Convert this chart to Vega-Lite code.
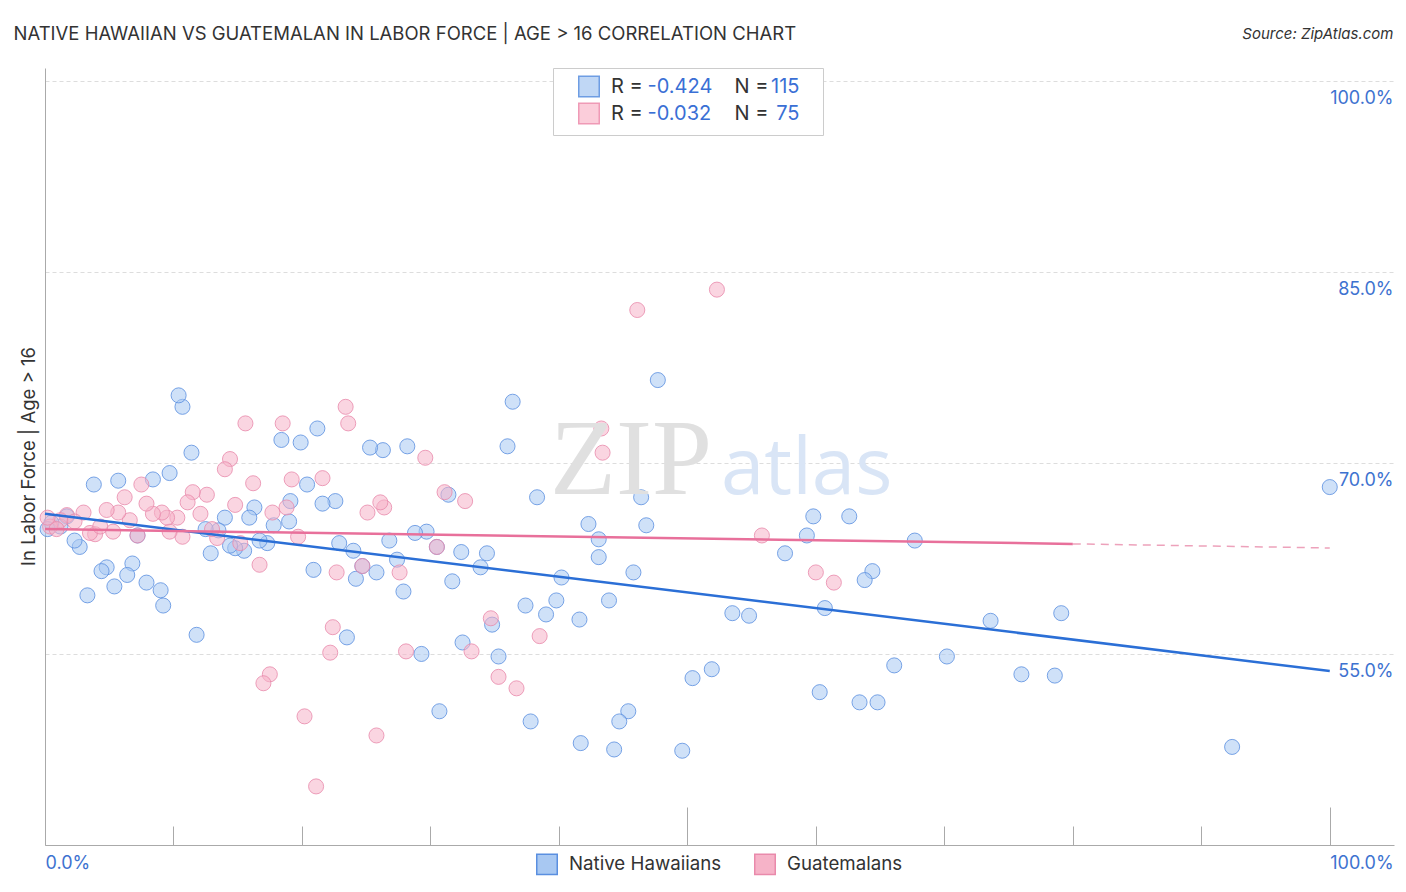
{
"$schema": "https://vega.github.io/schema/vega-lite/v6.json",
"width": 1349, "height": 777,
"autosize": {"type": "none"},
"padding": {"left": 45, "top": 68, "right": 12, "bottom": 47},
"background": "white",
"config": {"view": {"stroke": null}, "font": "Inter", "axis": {"labelFont": "Inter", "titleFont": "Inter"}, "legend": {"labelFont": "Inter", "titleFont": "Inter"}},
"datasets": {
"pts": [
{"g":"Native Hawaiians","x":100,"y":68.1},{"g":"Native Hawaiians","x":92.4,"y":47.7},{"g":"Native Hawaiians","x":79.1,"y":58.2},{"g":"Native Hawaiians","x":78.6,"y":53.3},{"g":"Native Hawaiians","x":76.0,"y":53.4},{"g":"Native Hawaiians","x":73.6,"y":57.6},{"g":"Native Hawaiians","x":70.2,"y":54.8},{"g":"Native Hawaiians","x":67.7,"y":63.9},{"g":"Native Hawaiians","x":66.1,"y":54.1},{"g":"Native Hawaiians","x":64.8,"y":51.2},{"g":"Native Hawaiians","x":63.4,"y":51.2},{"g":"Native Hawaiians","x":64.4,"y":61.5},{"g":"Native Hawaiians","x":63.8,"y":60.8},{"g":"Native Hawaiians","x":62.6,"y":65.8},{"g":"Native Hawaiians","x":60.7,"y":58.6},{"g":"Native Hawaiians","x":60.3,"y":52.0},{"g":"Native Hawaiians","x":59.8,"y":65.8},{"g":"Native Hawaiians","x":59.3,"y":64.3},{"g":"Native Hawaiians","x":57.6,"y":62.9},{"g":"Native Hawaiians","x":54.8,"y":58.0},{"g":"Native Hawaiians","x":53.5,"y":58.2},{"g":"Native Hawaiians","x":51.9,"y":53.8},{"g":"Native Hawaiians","x":50.4,"y":53.1},{"g":"Native Hawaiians","x":49.6,"y":47.4},
{"g":"Native Hawaiians","x":47.7,"y":76.5},{"g":"Native Hawaiians","x":46.8,"y":65.1},{"g":"Native Hawaiians","x":46.4,"y":67.3},{"g":"Native Hawaiians","x":45.8,"y":61.4},{"g":"Native Hawaiians","x":45.4,"y":50.5},{"g":"Native Hawaiians","x":44.7,"y":49.7},{"g":"Native Hawaiians","x":44.3,"y":47.5},{"g":"Native Hawaiians","x":43.9,"y":59.2},{"g":"Native Hawaiians","x":43.1,"y":62.6},{"g":"Native Hawaiians","x":43.1,"y":64.0},{"g":"Native Hawaiians","x":42.3,"y":65.2},{"g":"Native Hawaiians","x":41.7,"y":48.0},{"g":"Native Hawaiians","x":41.6,"y":57.7},{"g":"Native Hawaiians","x":40.2,"y":61.0},{"g":"Native Hawaiians","x":39.8,"y":59.2},{"g":"Native Hawaiians","x":39.0,"y":58.1},{"g":"Native Hawaiians","x":38.3,"y":67.3},{"g":"Native Hawaiians","x":37.8,"y":49.7},{"g":"Native Hawaiians","x":37.4,"y":58.8},{"g":"Native Hawaiians","x":36.4,"y":74.8},{"g":"Native Hawaiians","x":36.0,"y":71.3},{"g":"Native Hawaiians","x":35.3,"y":54.8},{"g":"Native Hawaiians","x":34.8,"y":57.3},{"g":"Native Hawaiians","x":34.4,"y":62.9},{"g":"Native Hawaiians","x":33.9,"y":61.8},{"g":"Native Hawaiians","x":32.5,"y":55.9},{"g":"Native Hawaiians","x":32.4,"y":63.0},{"g":"Native Hawaiians","x":31.7,"y":60.7},{"g":"Native Hawaiians","x":31.4,"y":67.5},{"g":"Native Hawaiians","x":30.7,"y":50.5},{"g":"Native Hawaiians","x":30.5,"y":63.4},{"g":"Native Hawaiians","x":29.7,"y":64.6},{"g":"Native Hawaiians","x":28.8,"y":64.5},{"g":"Native Hawaiians","x":29.3,"y":55.0},{"g":"Native Hawaiians","x":28.2,"y":71.3},{"g":"Native Hawaiians","x":27.9,"y":59.9},{"g":"Native Hawaiians","x":27.4,"y":62.4},{"g":"Native Hawaiians","x":26.8,"y":63.9},{"g":"Native Hawaiians","x":26.3,"y":71.0},{"g":"Native Hawaiians","x":25.8,"y":61.4},{"g":"Native Hawaiians","x":25.3,"y":71.2},{"g":"Native Hawaiians","x":24.7,"y":61.9},{"g":"Native Hawaiians","x":24.2,"y":60.9},{"g":"Native Hawaiians","x":24.0,"y":63.1},{"g":"Native Hawaiians","x":23.5,"y":56.3},{"g":"Native Hawaiians","x":22.9,"y":63.7},{"g":"Native Hawaiians","x":22.6,"y":67.0},
{"g":"Native Hawaiians","x":21.6,"y":66.8},{"g":"Native Hawaiians","x":21.2,"y":72.7},{"g":"Native Hawaiians","x":20.9,"y":61.6},{"g":"Native Hawaiians","x":20.4,"y":68.3},{"g":"Native Hawaiians","x":19.9,"y":71.6},{"g":"Native Hawaiians","x":19.1,"y":67.0},{"g":"Native Hawaiians","x":19.0,"y":65.4},{"g":"Native Hawaiians","x":18.4,"y":71.8},{"g":"Native Hawaiians","x":17.8,"y":65.1},{"g":"Native Hawaiians","x":17.3,"y":63.7},{"g":"Native Hawaiians","x":16.7,"y":63.9},{"g":"Native Hawaiians","x":16.3,"y":66.5},{"g":"Native Hawaiians","x":15.9,"y":65.7},{"g":"Native Hawaiians","x":15.5,"y":63.1},{"g":"Native Hawaiians","x":14.8,"y":63.3},{"g":"Native Hawaiians","x":14.4,"y":63.5},{"g":"Native Hawaiians","x":14.0,"y":65.7},{"g":"Native Hawaiians","x":13.5,"y":64.7},{"g":"Native Hawaiians","x":12.9,"y":62.9},{"g":"Native Hawaiians","x":12.5,"y":64.8},{"g":"Native Hawaiians","x":11.8,"y":56.5},{"g":"Native Hawaiians","x":11.4,"y":70.8},{"g":"Native Hawaiians","x":10.7,"y":74.4},{"g":"Native Hawaiians","x":10.4,"y":75.3},{"g":"Native Hawaiians","x":9.7,"y":69.2},{"g":"Native Hawaiians","x":9.2,"y":58.8},{"g":"Native Hawaiians","x":9.0,"y":60.0},{"g":"Native Hawaiians","x":8.4,"y":68.7},{"g":"Native Hawaiians","x":7.9,"y":60.6},{"g":"Native Hawaiians","x":7.2,"y":64.3},{"g":"Native Hawaiians","x":6.8,"y":62.1},{"g":"Native Hawaiians","x":6.4,"y":61.2},{"g":"Native Hawaiians","x":5.7,"y":68.6},{"g":"Native Hawaiians","x":5.4,"y":60.3},{"g":"Native Hawaiians","x":4.8,"y":61.8},{"g":"Native Hawaiians","x":4.4,"y":61.5},{"g":"Native Hawaiians","x":3.8,"y":68.3},{"g":"Native Hawaiians","x":3.3,"y":59.6},{"g":"Native Hawaiians","x":2.7,"y":63.4},{"g":"Native Hawaiians","x":2.3,"y":63.9},{"g":"Native Hawaiians","x":1.7,"y":65.8},{"g":"Native Hawaiians","x":1.2,"y":65.0},{"g":"Native Hawaiians","x":0.5,"y":65.3},{"g":"Native Hawaiians","x":0.2,"y":64.8},
{"g":"Guatemalans","x":52.3,"y":83.6},{"g":"Guatemalans","x":46.1,"y":82.0},{"g":"Guatemalans","x":43.3,"y":72.7},{"g":"Guatemalans","x":43.4,"y":70.8},{"g":"Guatemalans","x":32.7,"y":67.0},{"g":"Guatemalans","x":31.1,"y":67.7},{"g":"Guatemalans","x":29.6,"y":70.4},{"g":"Guatemalans","x":26.4,"y":66.5},{"g":"Guatemalans","x":26.1,"y":66.9},{"g":"Guatemalans","x":25.1,"y":66.1},{"g":"Guatemalans","x":23.4,"y":74.4},{"g":"Guatemalans","x":23.6,"y":73.1},{"g":"Guatemalans","x":21.6,"y":68.8},{"g":"Guatemalans","x":22.7,"y":61.4},{"g":"Guatemalans","x":24.7,"y":61.9},{"g":"Guatemalans","x":27.6,"y":61.4},{"g":"Guatemalans","x":30.5,"y":63.4},{"g":"Guatemalans","x":22.4,"y":57.1},{"g":"Guatemalans","x":22.2,"y":55.1},{"g":"Guatemalans","x":28.1,"y":55.2},{"g":"Guatemalans","x":33.2,"y":55.2},{"g":"Guatemalans","x":34.7,"y":57.8},{"g":"Guatemalans","x":35.3,"y":53.2},{"g":"Guatemalans","x":36.7,"y":52.3},{"g":"Guatemalans","x":38.5,"y":56.4},{"g":"Guatemalans","x":25.8,"y":48.6},{"g":"Guatemalans","x":20.2,"y":50.1},{"g":"Guatemalans","x":21.1,"y":44.6},{"g":"Guatemalans","x":17.5,"y":53.4},{"g":"Guatemalans","x":17.0,"y":52.7},{"g":"Guatemalans","x":16.7,"y":62.0},{"g":"Guatemalans","x":19.7,"y":64.2},{"g":"Guatemalans","x":19.2,"y":68.7},{"g":"Guatemalans","x":18.5,"y":73.1},{"g":"Guatemalans","x":18.8,"y":66.5},{"g":"Guatemalans","x":17.7,"y":66.1},{"g":"Guatemalans","x":16.2,"y":68.4},{"g":"Guatemalans","x":15.6,"y":73.1},{"g":"Guatemalans","x":14.4,"y":70.3},{"g":"Guatemalans","x":14.0,"y":69.5},{"g":"Guatemalans","x":14.8,"y":66.7},{"g":"Guatemalans","x":15.2,"y":63.7},{"g":"Guatemalans","x":13.4,"y":64.1},{"g":"Guatemalans","x":13.0,"y":64.8},{"g":"Guatemalans","x":12.1,"y":66.0},{"g":"Guatemalans","x":12.6,"y":67.5},{"g":"Guatemalans","x":11.5,"y":67.7},{"g":"Guatemalans","x":11.1,"y":66.9},{"g":"Guatemalans","x":10.7,"y":64.2},{"g":"Guatemalans","x":9.7,"y":64.6},{"g":"Guatemalans","x":10.3,"y":65.7},{"g":"Guatemalans","x":9.5,"y":65.7},{"g":"Guatemalans","x":9.1,"y":66.1},{"g":"Guatemalans","x":8.4,"y":66.0},{"g":"Guatemalans","x":7.9,"y":66.8},{"g":"Guatemalans","x":7.5,"y":68.3},{"g":"Guatemalans","x":6.2,"y":67.3},{"g":"Guatemalans","x":6.6,"y":65.5},{"g":"Guatemalans","x":5.7,"y":66.1},{"g":"Guatemalans","x":4.8,"y":66.3},{"g":"Guatemalans","x":5.3,"y":64.6},{"g":"Guatemalans","x":7.2,"y":64.3},{"g":"Guatemalans","x":3.9,"y":64.4},{"g":"Guatemalans","x":3.5,"y":64.5},{"g":"Guatemalans","x":3.0,"y":66.1},{"g":"Guatemalans","x":1.7,"y":65.9},{"g":"Guatemalans","x":1.2,"y":65.5},{"g":"Guatemalans","x":0.4,"y":65.0},{"g":"Guatemalans","x":55.8,"y":64.3},{"g":"Guatemalans","x":60.0,"y":61.4},{"g":"Guatemalans","x":61.4,"y":60.6},{"g":"Guatemalans","x":2.3,"y":65.4},{"g":"Guatemalans","x":0.9,"y":64.8},{"g":"Guatemalans","x":0.2,"y":65.7},{"g":"Guatemalans","x":4.3,"y":65.0}
],
"lines": [
{"g":"Native Hawaiians","s":"solid","x":0,"y":66.0},{"g":"Native Hawaiians","s":"solid","x":100,"y":53.66},
{"g":"Guatemalans","s":"solid","x":0,"y":64.8},{"g":"Guatemalans","s":"solid","x":80,"y":63.64},
{"g":"Guatemalans","s":"dash","x":80,"y":63.64},{"g":"Guatemalans","s":"dash","x":100,"y":63.32}
],
"stats": [
{"k":"a","o":1,"r":"-0.424","kc":"c1","n":"115","w1":"ZIP","w2":"atlas"},
{"k":"b","o":2,"r":"-0.032","kc":"c2","n":"75","w1":"ZIP","w2":"atlas"}
]
},
"layer": [
{
"data": {"name": "pts"},
"mark": {"type": "point", "filled": true, "size": 227, "opacity": 1, "fillOpacity": 0.55, "strokeOpacity": 0.8, "strokeWidth": 1},
"encoding": {
"x": {"field": "x", "type": "quantitative", "scale": {"domain": [0, 105], "nice": false, "zero": false},
"axis": {"orient": "bottom", "values": [0,10,20,30,40,50,60,70,80,90,100], "grid": false, "domainColor": "#aaaaaa", "tickColor": "#aaaaaa",
"tickSize": {"condition": {"test": "datum.value % 50 === 0", "value": -38}, "value": -19},
"labelExpr": "datum.value === 0 || datum.value === 100 ? format(datum.value, '.1f') + '%' : ''",
"labelAlign": "left", "labelBaseline": "top", "labelPadding": 47, "labelColor": "#3d72d0", "labelFontSize": 18, "labelOverlap": false, "labelFlush": false, "title": null}},
"y": {"field": "y", "type": "quantitative", "scale": {"domain": [40, 101], "nice": false, "zero": false},
"axis": {"orient": "left", "values": [55,70,85,100], "ticks": false, "tickSize": 0, "domain": true, "domainColor": "#aaaaaa", "grid": true, "gridColor": "#dddddd", "gridDash": [4,3],
"labelExpr": "format(datum.value, '.1f') + '%'", "labelAlign": "right", "labelBaseline": "top", "labelOffset": 9, "labelPadding": -1348, "labelColor": "#3d72d0", "labelFontSize": 18, "labelOverlap": false,
"title": "In Labor Force | Age > 16", "titleX": -17, "titleY": 388, "titleBaseline": "middle", "titleAngle": 270, "titleFontSize": 18.5, "titleFontWeight": "normal", "titleColor": "#333333"}},
"fill": {"field": "g", "type": "nominal", "scale": {"domain": ["Native Hawaiians","Guatemalans"], "range": ["#a8c8f2","#f6b3c8"]},
"legend": {"orient": "none", "legendX": 491, "legendY": 785, "direction": "horizontal", "title": null, "symbolType": "square", "symbolSize": 420, "symbolStrokeWidth": 1.5, "labelFontSize": 18.7, "labelColor": "#333333", "labelOffset": 11, "columnPadding": 29, "padding": 0, "labelLimit": 400}},
"stroke": {"field": "g", "type": "nominal", "scale": {"domain": ["Native Hawaiians","Guatemalans"], "range": ["#5a8fe0","#e98aab"]},
"legend": {"orient": "none", "legendX": 491, "legendY": 785, "direction": "horizontal", "title": null, "symbolType": "square", "symbolSize": 420, "symbolStrokeWidth": 1.5, "labelFontSize": 18.7, "labelColor": "#333333", "labelOffset": 11, "columnPadding": 29, "padding": 0, "labelLimit": 400}}
}
},
{
"data": {"name": "lines"},
"transform": [{"filter": "datum.s === 'solid'"}],
"mark": {"type": "line", "strokeWidth": 2.5},
"encoding": {
"x": {"field": "x", "type": "quantitative", "axis": null},
"y": {"field": "y", "type": "quantitative", "axis": {"orient": "right", "domain": false, "ticks": false, "labels": false, "grid": false, "title": "Source: ZipAtlas.com", "titleAngle": 0, "titleX": -1, "titleY": -35, "titleAlign": "right", "titleBaseline": "middle", "titleFontStyle": "italic", "titleFontWeight": "normal", "titleFontSize": 15, "titleColor": "#333333"}},
"stroke": {"field": "g", "type": "nominal", "scale": {"domain": ["Native Hawaiians","Guatemalans"], "range": ["#2b6fd6","#e8709b"]}, "legend": null}
}
},
{
"data": {"name": "lines"},
"transform": [{"filter": "datum.s === 'dash'"}],
"mark": {"type": "line", "strokeWidth": 1.5, "strokeDash": [8, 6], "color": "#eda2bb"},
"encoding": {
"x": {"field": "x", "type": "quantitative", "axis": {"orient": "top", "domain": false, "ticks": false, "labels": false, "grid": false, "title": "NATIVE HAWAIIAN VS GUATEMALAN IN LABOR FORCE | AGE > 16 CORRELATION CHART", "titleX": -32, "titleY": -35, "titleAlign": "left", "titleAnchor": "start", "titleBaseline": "middle", "titleFontSize": 18.5, "titleFontWeight": "normal", "titleColor": "#333333"}},
"y": {"field": "y", "type": "quantitative", "axis": null}
}
},
{
"data": {"name": "stats"},
"mark": {"type": "text", "text": ""},
"encoding": {
"fill": {"field": "k", "type": "nominal", "scale": {"domain": ["a","b"], "range": ["#c0d7f5","#fbcdda"]},
"legend": {"orient": "none", "legendX": 508, "legendY": 0, "direction": "vertical", "title": "\u00a0", "titleOrient": "right", "titleFontSize": 10, "titlePadding": 172.5, "symbolOffset": 17.5, "symbolType": "square", "symbolSize": 420, "symbolStrokeWidth": 1.5, "labelFontSize": 20, "labelColor": "#333333", "labelOffset": 11, "labelLimit": 1000, "rowPadding": -1, "padding": 7.5, "strokeColor": "#cccccc", "fillColor": "#ffffff", "labelExpr": "'R ='"}},
"stroke": {"field": "k", "type": "nominal", "scale": {"domain": ["a","b"], "range": ["#6e9de3","#ef9ab6"]},
"legend": {"orient": "none", "legendX": 508, "legendY": 0, "direction": "vertical", "title": "\u00a0", "titleOrient": "right", "titleFontSize": 10, "titlePadding": 172.5, "symbolOffset": 17.5, "symbolType": "square", "symbolSize": 420, "symbolStrokeWidth": 1.5, "labelFontSize": 20, "labelColor": "#333333", "labelOffset": 11, "labelLimit": 1000, "rowPadding": -1, "padding": 7.5, "strokeColor": "#cccccc", "fillColor": "#ffffff", "labelExpr": "'R ='"}}
}
},
{
"data": {"name": "stats"},
"mark": {"type": "text", "text": ""},
"encoding": {
"fill": {"field": "r", "type": "nominal", "sort": {"field": "o", "op": "min"}, "scale": {"range": ["#3a6fd5","#3a6fd5"]},
"legend": {"orient": "none", "legendX": 580.5, "legendY": 7.5, "direction": "vertical", "title": null, "symbolType": "square", "symbolSize": 420, "symbolOpacity": 0, "labelFontSize": 20, "labelColor": "#3a6fd5", "labelOffset": 0, "labelLimit": 500, "rowPadding": 5, "padding": 0}}
}
},
{
"data": {"name": "stats"},
"mark": {"type": "text", "text": ""},
"encoding": {
"fill": {"field": "kc", "type": "nominal", "scale": {"domain": ["c1","c2"], "range": ["#333333","#333333"]},
"legend": {"orient": "none", "legendX": 667.5, "legendY": 7.5, "direction": "vertical", "title": null, "symbolType": "square", "symbolSize": 420, "symbolOpacity": 0, "labelFontSize": 20, "labelColor": "#333333", "labelOffset": 0, "labelLimit": 500, "rowPadding": 5, "padding": 0, "labelExpr": "'N ='"}}
}
},
{
"data": {"name": "stats"},
"mark": {"type": "text", "text": ""},
"encoding": {
"fill": {"field": "n", "type": "nominal", "sort": {"field": "o", "op": "min"}, "scale": {"range": ["#3a6fd5","#3a6fd5"]},
"legend": {"orient": "none", "legendX": 732.5, "legendY": 7.5, "direction": "vertical", "title": null, "symbolType": "square", "symbolSize": 420, "symbolOpacity": 0, "labelFontSize": 20, "labelColor": "#3a6fd5", "labelOffset": 0, "labelAlign": "right", "labelLimit": 500, "rowPadding": 5, "padding": 0}}
}
},
{
"data": {"name": "stats"},
"mark": {"type": "text", "text": ""},
"encoding": {
"fill": {"field": "w1", "type": "nominal", "scale": {"range": ["#dddddd"]},
"legend": {"orient": "none", "legendX": 397, "legendY": 372, "title": null, "symbolSize": 0, "symbolOpacity": 0, "labelFont": "Liberation Serif", "labelFontSize": 108, "labelColor": "#e0e0e0", "labelOffset": 0, "labelBaseline": "alphabetic", "labelLimit": 1000, "padding": 0}}
}
},
{
"data": {"name": "stats"},
"mark": {"type": "text", "text": ""},
"encoding": {
"fill": {"field": "w2", "type": "nominal", "scale": {"range": ["#dbe6f6"]},
"legend": {"orient": "none", "legendX": 598, "legendY": 387, "title": null, "symbolSize": 0, "symbolOpacity": 0, "labelFont": "Open Sans", "labelFontSize": 78, "labelColor": "#d9e5f6", "labelOffset": 0, "labelBaseline": "alphabetic", "labelLimit": 1000, "padding": 0}}
}
}
],
"resolve": {"scale": {"fill": "independent", "stroke": "independent"}, "axis": {"x": "independent", "y": "independent"}}
}
